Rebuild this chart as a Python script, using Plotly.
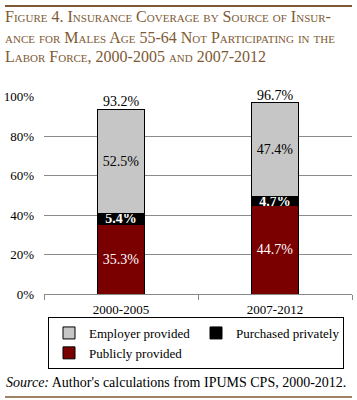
import plotly.graph_objects as go

categories = ["2000-2005", "2007-2012"]
publicly = [0.353, 0.447]
purchased = [0.054, 0.047]
employer = [0.525, 0.474]
totals = [0.932, 0.967]
tick_vals = [0, 0.2, 0.4, 0.6, 0.8, 1.0]
title_lines = [
    "Figure 4. Insurance Coverage by Source of Insur-",
    "ance for Males Age 55-64 Not Participating in the",
    "Labor Force, 2000-2005 and 2007-2012",
]
source_text = "<i>Source:</i> Author's calculations from IPUMS CPS, 2000-2012."

W, H = 357, 400
SERIF = "Liberation Serif, Times New Roman, serif"
BROWN = "#7E5A34"

def px_x(x):
    return x / W

def px_y(y):
    return 1 - y / H

fig = go.Figure()

fig.add_trace(go.Bar(
    name="Publicly provided", x=categories, y=publicly,
    marker=dict(color="#7A0000", line=dict(color="black", width=1)),
    text=[f"{v*100:.1f}%" for v in publicly], textposition="inside",
    insidetextanchor="middle", constraintext="none",
    textfont=dict(family=SERIF, size=14, color="white"),
    legendrank=3, hoverinfo="skip",
))
fig.add_trace(go.Bar(
    name="Purchased privately", x=categories, y=purchased,
    marker=dict(color="black", line=dict(color="black", width=1)),
    text=[f"<b>{v*100:.1f}%</b>" for v in purchased], textposition="inside",
    insidetextanchor="middle", constraintext="none",
    textfont=dict(family=SERIF, size=14, color="white"),
    legendrank=2, hoverinfo="skip",
))
fig.add_trace(go.Bar(
    name="Employer provided", x=categories, y=employer,
    marker=dict(color="#C6C6C6", line=dict(color="black", width=1)),
    text=[f"{v*100:.1f}%" for v in employer], textposition="inside",
    insidetextanchor="middle", constraintext="none",
    textfont=dict(family=SERIF, size=14, color="black"),
    legendrank=1, hoverinfo="skip",
))
fig.add_trace(go.Scatter(
    x=categories, y=totals, mode="text",
    text=[f"{v*100:.1f}%" for v in totals], textposition="top center",
    textfont=dict(family=SERIF, size=14, color="black"),
    showlegend=False, cliponaxis=False, hoverinfo="skip",
))

fig.update_layout(
    width=W, height=H,
    margin=dict(l=0, r=0, t=0, b=0, autoexpand=False),
    paper_bgcolor="white", plot_bgcolor="white",
    barmode="stack", bargap=0.695,
    font=dict(family=SERIF, size=13, color="black"),
    uniformtext=dict(minsize=13, mode="show"),
    showlegend=True,
    legend=dict(
        orientation="h", x=px_x(196), y=px_y(317), xanchor="center", yanchor="top",
        bordercolor="black", borderwidth=1, bgcolor="white",
        font=dict(family=SERIF, size=13, color="black"),
        entrywidth=102, itemwidth=30, tracegroupgap=0,
        traceorder="normal",
    ),
    xaxis=dict(
        domain=[px_x(44), px_x(352)], automargin=False,
        showline=True, linecolor="#888888", linewidth=1,
        ticks="outside", tickson="boundaries", ticklen=5, tickcolor="#888888",
        tickfont=dict(family=SERIF, size=13), ticklabelstandoff=3,
        showgrid=False,
    ),
    yaxis=dict(
        domain=[px_y(294), px_y(96.5)], automargin=False,
        range=[0, 1], tickvals=tick_vals, tickformat=".0%",
        showgrid=True, gridcolor="#8a8a8a", gridwidth=1,
        zeroline=False, showline=False, ticks="",
        ticklabelstandoff=9,
        tickfont=dict(family=SERIF, size=13),
    ),
)

for i, line in enumerate(title_lines):
    fig.add_annotation(
        xref="paper", yref="paper", x=px_x(3), y=px_y(17 + 20 * i),
        xanchor="left", yanchor="middle", align="left", showarrow=False,
        text=line,
        font=dict(family=SERIF, size=16, color=BROWN, variant="small-caps"),
    )
fig.add_annotation(
    xref="paper", yref="paper", x=px_x(4), y=px_y(382), xanchor="left", yanchor="middle",
    align="left", showarrow=False, text=source_text,
    font=dict(family=SERIF, size=14, color="black"),
)
# top rule (as an arrow-less annotation line) and bottom rule
fig.add_annotation(
    xref="paper", yref="paper", x=px_x(352), y=px_y(6),
    ax=-347, ay=0, showarrow=True, arrowhead=0, arrowwidth=2,
    arrowcolor=BROWN, standoff=0, startstandoff=0, text="",
)
fig.add_shape(type="line", xref="paper", yref="paper",
              x0=px_x(5), x1=px_x(352), y0=px_y(6), y1=px_y(6),
              line=dict(color=BROWN, width=2))
fig.add_shape(type="line", xref="paper", yref="paper",
              x0=px_x(5), x1=px_x(352), y0=px_y(397), y1=px_y(397),
              line=dict(color=BROWN, width=1.5))

fig.write_html("out.html", config={"displayModeBar": False},
               post_script="document.body.style.margin='0';")
